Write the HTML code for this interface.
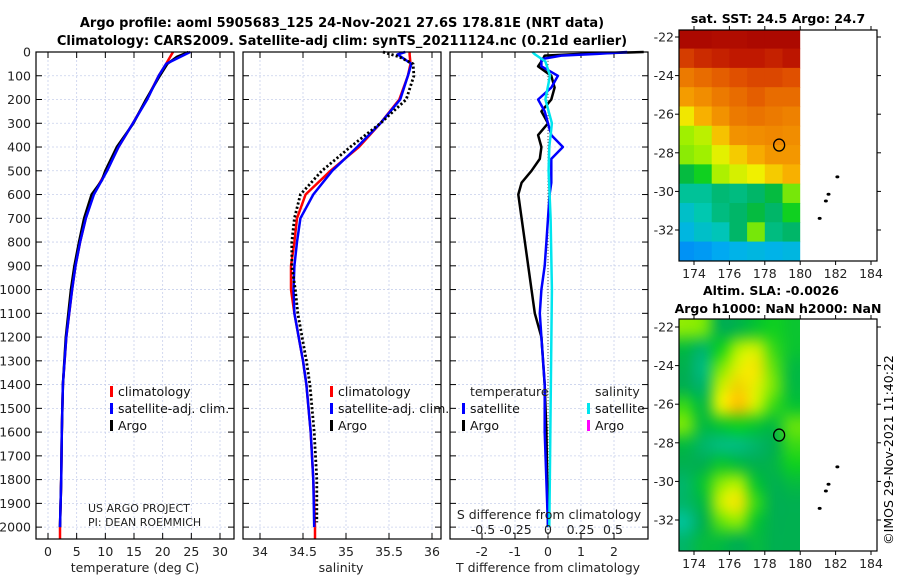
<!DOCTYPE html>
<html><head><meta charset="utf-8"><style>
html,body{margin:0;padding:0;background:#fff;width:900px;height:580px;overflow:hidden;position:relative}
svg{font-family:"DejaVu Sans","Liberation Sans",sans-serif;display:block;position:absolute;left:0;top:0}
#slaCanvas{position:absolute}
</style></head><body>
<canvas id="slaCanvas"></canvas>
<svg id="fig" width="900" height="580" xmlns="http://www.w3.org/2000/svg">
<text x="342" y="27" text-anchor="middle" font-size="13" font-weight="bold">Argo profile: aoml 5905683_125 24-Nov-2021 27.6S 178.81E (NRT data)</text>
<text x="342" y="45" text-anchor="middle" font-size="13" font-weight="bold">Climatology: CARS2009. Satellite-adj clim: synTS_20211124.nc (0.21d earlier)</text>
<g id="p1"></g>
<g id="p2"></g>
<g id="p3"></g>
<g id="m1"></g>
<g id="m2"></g>
<text x="778" y="23" text-anchor="middle" font-size="12.5" font-weight="bold">sat. SST: 24.5 Argo: 24.7</text>
<text x="771" y="295" text-anchor="middle" font-size="12.5" font-weight="bold">Altim. SLA: -0.0026</text>
<text x="778" y="313" text-anchor="middle" font-size="12.5" font-weight="bold">Argo h1000: NaN h2000: NaN</text>
<text transform="translate(893,450) rotate(-90)" text-anchor="middle" font-size="12.5">©IMOS 29-Nov-2021 11:40:22</text>
</svg>
<script>
// ---------- data ----------
const tDepth = [0,50,100,200,300,400,500,600,700,800,900,1000,1200,1400,1600,1800,2000];
const tClim  = [21.8,20.6,19.3,17.2,14.8,12.3,10.2,7.9,6.6,5.6,4.8,4.2,3.2,2.6,2.4,2.3,2.1];
const tSat   = [24.8,20.6,19.3,17.3,14.8,12.3,10.3,8.0,6.6,5.6,4.8,4.2,3.2,2.6,2.4,2.3,2.1];
const tArgoDepth = [0,20,50,100,200,300,400,500,540,600,700,800,900,1000,1200,1400,1600,1800,2000];
const tArgo  = [24.5,22.5,20.8,19.5,17.1,14.9,12.0,10.0,9.4,7.6,6.3,5.4,4.6,4.0,3.1,2.6,2.4,2.3,2.1];
const climDeep = [2000,2050];
const sDepth = [0,10,50,100,200,300,400,500,600,700,800,900,1000,1100,1200,1300,1400,1600,1800,2000];
const sClim  = [35.74,35.74,35.75,35.72,35.62,35.40,35.15,34.82,34.53,34.43,34.40,34.36,34.36,34.40,34.45,34.50,34.54,34.59,34.62,34.64];
const sSat   = [35.69,35.60,35.76,35.72,35.63,35.40,35.13,34.84,34.62,34.47,34.43,34.40,34.39,34.40,34.45,34.50,34.54,34.59,34.62,34.63];
const sArgoDepth = [0,20,50,100,200,300,400,500,600,700,800,900,1000,1100,1200,1300,1400,1600,1800,1980];
const sArgo  = [35.43,35.62,35.78,35.79,35.70,35.40,35.05,34.72,34.47,34.40,34.37,34.37,34.41,34.44,34.49,34.54,34.58,34.63,34.66,34.66];
const dDepthT = [0,8,15,30,60,100,150,200,250,300,350,400,450,500,550,600,700,800,900,1000,1100,1200,1400,1600,2000];
const dArgoT  = [2.9,1.0,-0.1,-0.15,-0.3,0.1,0.2,0.1,-0.2,0.0,-0.3,-0.2,-0.25,-0.5,-0.8,-0.9,-0.8,-0.7,-0.6,-0.5,-0.4,-0.2,-0.1,-0.05,0.0];
const dSatT   = [2.4,1.5,0.4,-0.2,-0.2,0.3,0.1,-0.3,-0.1,0.0,0.1,0.45,0.1,0.1,0.1,0.05,0.0,-0.05,-0.1,-0.2,-0.25,-0.2,-0.1,-0.1,0.0];
const dDepthS = [0,10,40,100,200,300,400,500,700,1000,1500,2000];
const dSatS   = [-0.12,-0.1,-0.02,0.015,-0.02,0.03,0.01,0.005,0.02,0.03,0.02,0.01];
const depthTicks = [0,100,200,300,400,500,600,700,800,900,1000,1100,1200,1300,1400,1500,1600,1700,1800,1900,2000];
const tTicks = [0,5,10,15,20,25,30];
const sTicks = [34,34.5,35,35.5,36];
const sTickLabels = ["34","34.5","35","35.5","36"];
const dTTicks = [-2,-1,0,1,2];
const dSTicks = [-0.5,-0.25,0,0.25,0.5];
const dSTickLabels = ["-0.5","-0.25","0","0.25","0.5"];
const lonTicks = [174,176,178,180,182,184];
const latTicks = [-22,-24,-26,-28,-30,-32];
const sstGrid = [
 [0.97,0.97,0.96,0.96,0.97,0.97,0.97],
 [0.88,0.90,0.91,0.92,0.92,0.91,0.93],
 [0.80,0.82,0.84,0.86,0.87,0.87,0.86],
 [0.74,0.77,0.80,0.82,0.84,0.82,0.82],
 [0.64,0.70,0.76,0.80,0.81,0.80,0.79],
 [0.57,0.59,0.68,0.76,0.77,0.78,0.77],
 [0.56,0.57,0.62,0.67,0.71,0.75,0.75],
 [0.46,0.50,0.58,0.61,0.63,0.67,0.70],
 [0.38,0.38,0.41,0.40,0.42,0.46,0.55],
 [0.33,0.36,0.40,0.42,0.46,0.42,0.50],
 [0.30,0.33,0.35,0.42,0.55,0.40,0.42],
 [0.24,0.25,0.27,0.29,0.30,0.29,0.30]];
const slaGrid = [
 [0.56,0.55,0.44,0.45,0.48,0.50,0.48],
 [0.46,0.42,0.50,0.58,0.60,0.52,0.48],
 [0.44,0.40,0.55,0.62,0.64,0.54,0.46],
 [0.44,0.42,0.60,0.66,0.62,0.55,0.46],
 [0.52,0.46,0.62,0.68,0.60,0.52,0.48],
 [0.55,0.46,0.48,0.50,0.48,0.46,0.54],
 [0.46,0.42,0.40,0.40,0.42,0.44,0.52],
 [0.44,0.44,0.48,0.46,0.44,0.45,0.50],
 [0.42,0.48,0.56,0.58,0.48,0.44,0.46],
 [0.42,0.46,0.60,0.64,0.52,0.44,0.44],
 [0.38,0.44,0.54,0.56,0.48,0.44,0.44],
 [0.42,0.46,0.46,0.44,0.46,0.44,0.44]];
const islandsLon = [182.1,181.6,181.45,181.1];
const islandsLat = [-29.25,-30.15,-30.5,-31.4];
const floatLon = 178.81, floatLat = -27.6;

// ---------- helpers ----------
const NS="http://www.w3.org/2000/svg";
function mk(tag, parent, attrs){const e=document.createElementNS(NS,tag);for(const k in attrs)e.setAttribute(k,attrs[k]);parent.appendChild(e);return e;}
const PY0=52, PY1=539;
const yD = d => PY0 + d*(PY1-PY0)/2050;
function lin(d0,d1,r0,r1){return v=>r0+(v-d0)*(r1-r0)/(d1-d0);}

function frame(g, x0, x1){
  depthTicks.forEach(d=>{
    const y=yD(d);
    const gl=mk('line',g,{x1:x0,x2:x1,y1:y,y2:y,stroke:'#c8d0ec','stroke-width':0.8,'stroke-dasharray':'2,2'});
    
    
    mk('line',g,{x1:x0,x2:x0+6,y1:y,y2:y,stroke:'#000','stroke-width':1});
    mk('line',g,{x1:x1-6,x2:x1,y1:y,y2:y,stroke:'#000','stroke-width':1});
  });
}
function border(g,x0,x1){
  const r=mk('rect',g,{x:x0,y:PY0,width:x1-x0,height:PY1-PY0,fill:'none',stroke:'#000','stroke-width':1.2});
  
  
}
function xticks(g, ticks, labels, xf, yLab){
  ticks.forEach((t,i)=>{
    const x=xf(t);
    const gl=mk('line',g,{x1:x,x2:x,y1:PY0,y2:PY1,stroke:'#c8d0ec','stroke-width':0.8,'stroke-dasharray':'2,2'});
    
    
    mk('line',g,{x1:x,x2:x,y1:PY1-6,y2:PY1,stroke:'#000'});
    mk('line',g,{x1:x,x2:x,y1:PY0,y2:PY0+6,stroke:'#000'});
    const tx=mk('text',g,{x:x,y:yLab,'text-anchor':'middle','font-size':12.5,fill:'#222'});
    tx.textContent=labels[i];
    
    
  });
}
function line(g, xs, ds, xf, color, w, name, dash){
  const pts=xs.map((v,i)=>xf(v).toFixed(1)+','+yD(ds[i]).toFixed(1)).join(' ');
  const p=mk('polyline',g,{points:pts,fill:'none',stroke:color,'stroke-width':w,'stroke-linejoin':'round'});
  if(dash)p.setAttribute('stroke-dasharray',dash);
  
  
}
function legend(g, x, y, items){
  items.forEach((it,i)=>{
    const yy=y+i*17;
    mk('rect',g,{x:x,y:yy-10,width:3,height:11,fill:it[1]});
    const t=mk('text',g,{x:x+8,y:yy,'font-size':12.5,fill:'#111'});
    t.textContent=it[0];
    
    
  });
}
function txt(g,x,y,s,size,name,anchor){
  const t=mk('text',g,{x:x,y:y,'font-size':size,'text-anchor':anchor||'start',fill:'#222'});
  t.textContent=s;
  
  
  return t;
}

// ---------- panel 1 ----------
const g1=document.getElementById('p1');
const xT=lin(0,30,48,220);
frame(g1,36,234);
xticks(g1,tTicks,tTicks.map(String),xT,556);
depthTicks.forEach(d=>{txt(g1,31,yD(d)+4.5,String(d),12.5,'depth-tick-label','end');});
line(g1,[2.1,2.1],climDeep,xT,'#ff0000',2.5,'temperature-climatology-deep');
line(g1,tClim,tDepth,xT,'#ff0000',2.5,'temperature-climatology-line');
line(g1,tArgo,tArgoDepth,xT,'#000',2.5,'temperature-argo-line');
line(g1,tSat,tDepth,xT,'#0000ff',2.5,'temperature-satellite-line');
border(g1,36,234);
legend(g1,110,396,[['climatology','#ff0000'],['satellite-adj. clim.','#0000ff'],['Argo','#000']]);
txt(g1,88,512,'US ARGO PROJECT',11,'project-label');
txt(g1,88,526,'PI: DEAN ROEMMICH',11,'pi-label');
txt(g1,135,572,'temperature (deg C)',12.5,'x-axis-title-temperature','middle');

// ---------- panel 2 ----------
const g2=document.getElementById('p2');
const xS=lin(34,36,260,432);
frame(g2,243,441);
xticks(g2,sTicks,sTickLabels,xS,556);
line(g2,[34.64,34.64],climDeep,xS,'#ff0000',2.5,'salinity-climatology-deep');
line(g2,sClim,sDepth,xS,'#ff0000',2.5,'salinity-climatology-line');
line(g2,sSat,sDepth,xS,'#0000ff',2.5,'salinity-satellite-line');
line(g2,sArgo,sArgoDepth,xS,'#000',2.8,'salinity-argo-line','2.2,2.2');
border(g2,243,441);
legend(g2,330,396,[['climatology','#ff0000'],['satellite-adj. clim.','#0000ff'],['Argo','#000']]);
txt(g2,341,572,'salinity',12.5,'x-axis-title-salinity','middle');

// ---------- panel 3 ----------
const g3=document.getElementById('p3');
const xDT=lin(0,2,548,614);
const xDS=lin(0,0.5,548,613);
frame(g3,450,648);
xticks(g3,dTTicks,dTTicks.map(String),xDT,556);
const zl=mk('line',g3,{x1:548,x2:548,y1:PY0,y2:PY1,stroke:'#555','stroke-width':1,'stroke-dasharray':'1,2'});


line(g3,dArgoT,dDepthT,xDT,'#000',2.5,'argo-temperature-difference-line');
line(g3,dSatT,dDepthT,xDT,'#0000ff',2.5,'satellite-temperature-difference-line');
line(g3,dSatS,dDepthS,xDS,'#00e5ee',2.5,'satellite-salinity-difference-line');
border(g3,450,648);
dSTicks.forEach((t,i)=>{txt(g3,xDS(t),534,dSTickLabels[i],12.5,'s-diff-tick-label','middle');});
txt(g3,549,519,'S difference from climatology',12.5,'s-diff-axis-title','middle');
txt(g3,470,396,'temperature',12.5,'legend-title-temperature');
txt(g3,595,396,'salinity',12.5,'legend-title-salinity');
legend(g3,462,413,[['satellite','#0000ff'],['Argo','#000']]);
legend(g3,587,413,[['satellite','#00e5ee'],['Argo','#ff00ff']]);
txt(g3,548,572,'T difference from climatology',12.5,'x-axis-title-difference','middle');

// ---------- maps ----------
const stops=[[0,'#0000a0'],[0.15,'#0050ff'],[0.28,'#00b0f0'],[0.36,'#00c8b0'],[0.44,'#00b050'],[0.5,'#10d020'],[0.57,'#a0f000'],[0.63,'#f0f000'],[0.7,'#f8b000'],[0.78,'#f08800'],[0.86,'#e05000'],[0.92,'#c01800'],[1,'#a00000']];
function cmap(v){
  for(let i=1;i<stops.length;i++){if(v<=stops[i][0]){const a=stops[i-1],b=stops[i];const f=(v-a[0])/(b[0]-a[0]);
    const ca=[1,3,5].map(k=>parseInt(a[1].substr(k,2),16)),cb=[1,3,5].map(k=>parseInt(b[1].substr(k,2),16));
    return 'rgb('+ca.map((c,j)=>Math.round(c+(cb[j]-c)*f)).join(',')+')';}}
  return stops[stops.length-1][1];
}
function drawMap(g, top, bottom, grid, smooth, idx){
  const X0=679,X1=877;
  const xL=lin(174,184,694,871);
  const latRef = top===30 ? [37,230] : [327,520];
  const yL=lin(-22,-32,latRef[0],latRef[1]);
  if(smooth){
    // small source canvas, one pixel per grid cell, scaled with smoothing
    const src=document.createElement('canvas');
    src.width=grid[0].length; src.height=grid.length;
    const sc=src.getContext('2d');
    grid.forEach((row,r)=>row.forEach((v,c)=>{sc.fillStyle=cmap(v);sc.fillRect(c,r,1,1);}));
    const cv=document.getElementById('slaCanvas');
    const left=X0, w=Math.round(xL(180)-X0), h=bottom-top;
    cv.width=w; cv.height=h;
    cv.style.left=left+'px'; cv.style.top=top+'px';
    const ctx=cv.getContext('2d');
    ctx.imageSmoothingEnabled=true;
    ctx.imageSmoothingQuality='high';
    const gx0=xL(173)-left, gy0=yL(-21.6)-top;
    ctx.drawImage(src,0,0,src.width,src.height,gx0,gy0,xL(180)-xL(173),yL(-33.6)-yL(-21.6));
  } else {
    const clip=mk('clipPath',g,{id:'clip'+idx});
    mk('rect',clip,{x:X0,y:top,width:xL(180)-X0,height:bottom-top});
    const cells=mk('g',g,{'clip-path':'url(#clip'+idx+')'});
    grid.forEach((row,r)=>row.forEach((v,c)=>{
      const la0=-21.6-r, lo0=173+c;
      const rc=mk('rect',cells,{x:xL(lo0),y:yL(la0),width:xL(lo0+1)-xL(lo0)+0.6,height:yL(la0-1)-yL(la0)+0.6,fill:cmap(v)});
      
      
    }));
  }
  islandsLon.forEach((lo,i)=>{
    const e=mk('ellipse',g,{cx:xL(lo),cy:yL(islandsLat[i]),rx:2,ry:1.5,fill:'#000'});
    
    
  });
  const fc=mk('ellipse',g,{cx:xL(floatLon),cy:yL(floatLat),rx:5.5,ry:6,fill:'none',stroke:'#000','stroke-width':1.3});
  
  
  const fr=mk('rect',g,{x:X0,y:top,width:X1-X0,height:bottom-top,fill:'none',stroke:'#000','stroke-width':1.2});
  
  
  lonTicks.forEach(l=>{
    const x=xL(l);
    mk('line',g,{x1:x,x2:x,y1:bottom,y2:bottom+4,stroke:'#000'});
    mk('line',g,{x1:x,x2:x,y1:top,y2:top-4,stroke:'#000'});
    txt(g,x,bottom+17,String(l),12.5,'lon-tick-label','middle');
  });
  latTicks.forEach(l=>{
    const y=yL(l);
    mk('line',g,{x1:X0-4,x2:X0,y1:y,y2:y,stroke:'#000'});
    mk('line',g,{x1:X1,x2:X1+4,y1:y,y2:y,stroke:'#000'});
    txt(g,X0-5,y+4.5,String(l),12.5,'lat-tick-label','end');
  });
}
drawMap(document.getElementById('m1'),30,261,sstGrid,false,1);
drawMap(document.getElementById('m2'),319,551,slaGrid,true,2);
</script>
</body></html>
